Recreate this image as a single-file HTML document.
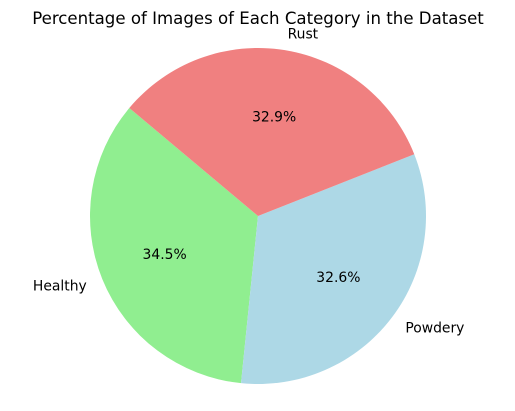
<!DOCTYPE html>
<html><head><meta charset="utf-8"><style>
html,body{margin:0;padding:0;background:#fff;}
svg{display:block;font-family:"DejaVu Sans","Liberation Sans",sans-serif;}
</style></head><body>
<svg id="chart" width="515" height="411" viewBox="0 0 515 411">
<text x="258" y="24" text-anchor="middle" font-size="16.6" fill="#000">Percentage of Images of Each Category in the Dataset</text>
<g id="slices"></g>
</svg>
<script>
const categories = ["Healthy", "Powdery", "Rust"];
const values = [34.5, 32.6, 32.9];
const colors = ["#90ee90", "#add8e6", "#f08080"];
const startAngle = 140;
const cx = 258, cy = 216, r = 168;
const g = document.getElementById('slices');
const ns = "http://www.w3.org/2000/svg";
const total = values.reduce((a,b)=>a+b,0);
function pt(angDeg, rad){const a=angDeg*Math.PI/180;return [cx+rad*Math.cos(a), cy-rad*Math.sin(a)];}
let ang = startAngle;
values.forEach((v,i)=>{
  const sweep = v/total*360;
  const a0 = ang, a1 = ang+sweep;
  const p0 = pt(a0,r), p1 = pt(a1,r);
  const large = sweep>180?1:0;
  const path = document.createElementNS(ns,'path');
  path.setAttribute('d',`M${cx},${cy} L${p0[0]},${p0[1]} A${r},${r} 0 ${large} 0 ${p1[0]},${p1[1]} Z`);
  path.setAttribute('fill',colors[i]);
  
  
  g.appendChild(path);
  const mid = (a0+a1)/2;
  const lp = pt(mid, r*1.1);
  const cosm = Math.cos(mid*Math.PI/180);
  const lab = document.createElementNS(ns,'text');
  lab.setAttribute('x',lp[0]); lab.setAttribute('y',lp[1]+5);
  lab.setAttribute('font-size','13.9');
  lab.setAttribute('text-anchor', cosm>0.01?'start':(cosm<-0.01?'end':'middle'));
  lab.textContent = categories[i];
  
  
  g.appendChild(lab);
  const pp = pt(mid, r*0.6);
  const pc = document.createElementNS(ns,'text');
  pc.setAttribute('x',pp[0]); pc.setAttribute('y',pp[1]+5);
  pc.setAttribute('font-size','13.9');
  pc.setAttribute('text-anchor','middle');
  pc.textContent = (v/total*100).toFixed(1)+'%';
  
  
  g.appendChild(pc);
  ang = a1;
});
</script>
</body></html>
